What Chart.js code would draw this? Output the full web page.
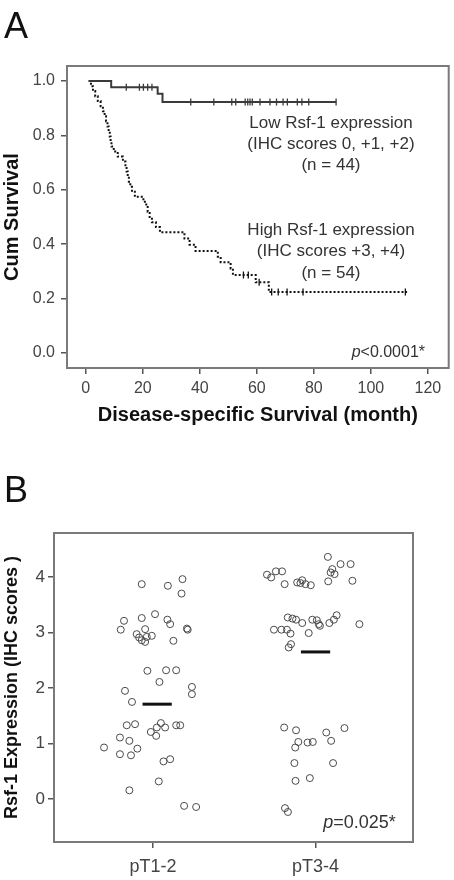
<!DOCTYPE html>
<html><head><meta charset="utf-8">
<script src="https://cdn.jsdelivr.net/npm/chart.js@4.4.1/dist/chart.umd.min.js"></script>
<style>
html,body{margin:0;padding:0;background:#fff;}
body{width:454px;height:880px;position:relative;overflow:hidden;font-family:"Liberation Sans",Arial,sans-serif;}
.wrap{position:absolute;left:0;width:454px;height:440px;}
#wa{top:0}
#wb{top:440px}
.letter{position:absolute;left:4px;font-size:36px;line-height:1;color:#111;}
</style></head><body>
<div class="wrap" id="wa"><canvas id="ca" width="454" height="440"></canvas></div>
<div class="wrap" id="wb"><canvas id="cb" width="454" height="440"></canvas></div>
<div class="letter" style="top:8px">A</div>
<div class="letter" style="top:472px">B</div>
<script>
// ---------- Panel A data (Kaplan-Meier) ----------
const xTicksA = [0, 20, 40, 60, 80, 100, 120];
const yTicksA = [0.0, 0.2, 0.4, 0.6, 0.8, 1.0];

const lowTime = [1.0, 8.9, 25.2, 26.9, 87.8];
const lowSurv = [1.000, 0.977, 0.953, 0.923, 0.923];
const lowCensorTime = [14.2, 18.8, 20.2, 21.7, 23.2, 36.8, 44.9, 51.2, 52.6, 55.9, 56.8, 57.6, 58.4, 61.1, 64.6, 66.9, 69.2, 70.7, 74.2, 75.8, 78.2, 87.8];
const lowCensorSurv = [0.977, 0.977, 0.977, 0.977, 0.977, 0.923, 0.923, 0.923, 0.923, 0.923, 0.923, 0.923, 0.923, 0.923, 0.923, 0.923, 0.923, 0.923, 0.923, 0.923, 0.923, 0.923];

const highTime = [1.0, 1.8, 2.5, 3.3, 4.2, 5.2, 6.0, 6.6, 7.1, 7.6, 8.0, 8.4, 8.7, 9.0, 9.8, 11.2, 13.0, 13.9, 14.3, 14.7, 15.1, 15.6, 16.2, 17.2, 20.2, 21.2, 21.7, 22.4, 23.2, 24.6, 26.0, 34.6, 36.4, 38.5, 46.3, 47.3, 50.8, 51.6, 59.6, 64.2, 112.7];
const highSurv = [1.000, 0.981, 0.963, 0.944, 0.926, 0.907, 0.889, 0.870, 0.852, 0.833, 0.815, 0.796, 0.778, 0.759, 0.741, 0.722, 0.704, 0.685, 0.667, 0.648, 0.630, 0.611, 0.593, 0.574, 0.556, 0.537, 0.519, 0.500, 0.481, 0.463, 0.444, 0.421, 0.398, 0.375, 0.354, 0.334, 0.311, 0.287, 0.260, 0.224, 0.224];
const highCensorTime = [55.3, 57.0, 60.8, 65.2, 67.5, 70.6, 76.2, 112.1];
const highCensorSurv = [0.287, 0.287, 0.260, 0.224, 0.224, 0.224, 0.224, 0.224];

// ---------- Panel B data (dot plot) ----------
const categories = ['pT1-2', 'pT3-4'];
const yTicksB = [0, 1, 2, 3, 4];
const groupMeans = [1.71, 2.65];
const t12X = [0.930, 1.091, 1.181, 1.175, 0.821, 0.801, 0.930, 1.012, 1.088, 1.105, 1.208, 1.213, 0.899, 0.914, 0.951, 0.961, 0.992, 0.930, 0.951, 1.125, 0.965, 1.080, 1.142, 1.039, 0.827, 0.870, 1.239, 1.239, 0.838, 0.889, 1.048, 1.023, 0.986, 1.019, 1.074, 1.142, 1.167, 0.796, 0.854, 0.903, 0.698, 0.796, 0.864, 1.064, 1.105, 1.035, 0.854, 1.191, 1.265];
const t12Y = [3.87, 3.84, 3.96, 3.70, 3.21, 3.05, 3.26, 3.33, 3.23, 3.15, 3.07, 3.05, 2.97, 2.91, 3.06, 2.92, 2.94, 2.86, 2.83, 2.85, 2.31, 2.32, 2.32, 2.11, 1.95, 1.75, 2.02, 1.89, 1.33, 1.35, 1.37, 1.29, 1.21, 1.14, 1.29, 1.33, 1.33, 1.11, 1.05, 0.91, 0.93, 0.81, 0.79, 0.68, 0.72, 0.32, 0.16, -0.12, -0.14];
const t34X = [2.076, 2.154, 2.216, 2.093, 2.103, 2.117, 2.078, 2.227, 1.701, 1.727, 1.756, 1.794, 1.810, 1.887, 1.907, 1.918, 1.938, 1.971, 1.829, 1.858, 1.880, 1.918, 1.980, 2.008, 2.020, 2.027, 2.085, 2.113, 2.130, 1.744, 1.790, 1.824, 1.846, 1.958, 2.270, 1.835, 1.849, 1.807, 1.880, 1.894, 1.875, 1.951, 1.983, 2.066, 2.096, 2.178, 1.870, 2.108, 1.877, 1.965, 1.812, 1.830];
const t34Y = [4.36, 4.23, 4.23, 4.08, 4.14, 4.05, 3.92, 3.93, 4.04, 3.99, 4.10, 4.10, 3.87, 3.90, 3.89, 3.94, 3.87, 3.85, 3.27, 3.25, 3.23, 3.17, 3.23, 3.22, 3.15, 3.12, 3.17, 3.23, 3.31, 3.05, 3.05, 3.05, 2.98, 2.99, 3.15, 2.73, 2.79, 1.29, 1.24, 1.03, 0.93, 1.02, 1.03, 1.20, 1.05, 1.28, 0.65, 0.65, 0.33, 0.38, -0.16, -0.23];

// ---------- helpers ----------
const FAM = '"Liberation Sans", Arial, Helvetica, sans-serif';
Chart.defaults.font.family = FAM;
Chart.defaults.animation = false;
const zip = (xs, ys) => xs.map((x, i) => ({x: x, y: ys[i]}));

const framePlugin = {
  id: 'frame',
  afterDraw(chart) {
    const a = chart.chartArea, ctx = chart.ctx;
    ctx.save();
    ctx.strokeStyle = '#7a7a7a';
    ctx.lineWidth = 2;
    ctx.strokeRect(a.left, a.top, a.right - a.left, a.bottom - a.top);
    ctx.restore();
  }
};

function drawPText(ctx, rest, xRight, y, size) {
  ctx.save();
  ctx.textBaseline = 'middle';
  ctx.fillStyle = '#333';
  ctx.font = size + 'px ' + FAM;
  const wRest = ctx.measureText(rest).width;
  ctx.font = 'italic ' + size + 'px ' + FAM;
  const wP = ctx.measureText('p').width;
  ctx.textAlign = 'left';
  ctx.fillText('p', xRight - wRest - wP, y);
  ctx.font = size + 'px ' + FAM;
  ctx.fillText(rest, xRight - wRest, y);
  ctx.restore();
}

// ---------- Chart A ----------
const lowLabel = ['Low Rsf-1 expression', '(IHC scores 0, +1, +2)', '(n = 44)'];
const highLabel = ['High Rsf-1 expression', '(IHC scores +3, +4)', '(n = 54)'];
const annotA = {
  id: 'annotA',
  afterDraw(chart) {
    const ctx = chart.ctx, xs = chart.scales.x, ys = chart.scales.y;
    ctx.save();
    ctx.fillStyle = '#333';
    ctx.font = '17px ' + FAM;
    ctx.textAlign = 'center';
    ctx.textBaseline = 'middle';
    const cx = xs.getPixelForValue(86);
    let y0 = ys.getPixelForValue(0.846);
    lowLabel.forEach((t, i) => ctx.fillText(t, cx, y0 + i * 21));
    y0 = ys.getPixelForValue(0.452);
    highLabel.forEach((t, i) => ctx.fillText(t, cx, y0 + i * 21.5));
    ctx.restore();
    drawPText(ctx, '<0.0001*', xs.getPixelForValue(119), ys.getPixelForValue(0.003), 16);
  }
};

new Chart(document.getElementById('ca'), {
  type: 'line',
  data: {
    datasets: [
      {data: zip(lowTime, lowSurv), stepped: 'before', borderColor: '#3a3a3a', borderWidth: 2, pointRadius: 0, fill: false},
      {data: zip(lowCensorTime, lowCensorSurv), showLine: false, pointStyle: 'line', rotation: 90, pointRadius: 3.5, borderColor: '#3a3a3a', pointBorderWidth: 1.3},
      {data: zip(highTime, highSurv), stepped: 'before', borderColor: '#111', borderWidth: 2, borderDash: [2, 2], pointRadius: 0, fill: false},
      {data: zip(highCensorTime, highCensorSurv), showLine: false, pointStyle: 'line', rotation: 90, pointRadius: 3.5, borderColor: '#111', pointBorderWidth: 1.3}
    ]
  },
  options: {
    responsive: false,
    animation: false,
    layout: {padding: {left: 0, top: 66, right: 2, bottom: 12}},
    plugins: {legend: {display: false}, tooltip: {enabled: false}},
    scales: {
      x: {
        type: 'linear', min: -6.6, max: 127.3,
        afterBuildTicks: s => { s.ticks = xTicksA.map(v => ({value: v})); },
        afterFit: s => { s.height = 60; },
        ticks: {font: {size: 16}, color: '#444', padding: 5, maxRotation: 0, autoSkip: false, callback: v => String(v)},
        grid: {display: true, drawOnChartArea: false, drawTicks: true, tickLength: 6, color: '#555', lineWidth: 1.5},
        border: {display: false},
        title: {display: true, text: 'Disease-specific Survival (month)', color: '#111', font: {size: 20, weight: 'bold'}, padding: {top: 0, bottom: 1}}
      },
      y: {
        type: 'linear', min: -0.055, max: 1.055,
        afterBuildTicks: s => { s.ticks = yTicksA.map(v => ({value: v})); },
        afterFit: s => { s.width = 67; },
        ticks: {font: {size: 16}, color: '#444', padding: 6, autoSkip: false, callback: v => Number(v).toFixed(1)},
        grid: {display: true, drawOnChartArea: false, drawTicks: true, tickLength: 6, color: '#555', lineWidth: 1.5},
        border: {display: false},
        title: {display: true, text: 'Cum Survival', color: '#111', font: {size: 20, weight: 'bold'}, padding: {top: 0, bottom: 0}}
      }
    }
  },
  plugins: [framePlugin, annotA]
});

// ---------- Chart B ----------
const meanHalfWidth = 0.09;
const annotB = {
  id: 'annotB',
  afterDraw(chart) {
    const xs = chart.scales.x, ys = chart.scales.y;
    drawPText(chart.ctx, '=0.025*', xs.getPixelForValue(2.494), ys.getPixelForValue(-0.43), 18);
  }
};

const circleStyle = {showLine: false, pointStyle: 'circle', pointRadius: 3.5, pointBorderWidth: 1, borderColor: '#4a4a4a', pointBorderColor: '#4a4a4a', backgroundColor: 'rgba(0,0,0,0)', pointBackgroundColor: 'rgba(0,0,0,0)'};

new Chart(document.getElementById('cb'), {
  type: 'line',
  data: {
    datasets: [
      Object.assign({data: zip(t12X, t12Y)}, circleStyle),
      Object.assign({data: zip(t34X, t34Y)}, circleStyle),
      {data: [{x: 1.025 - meanHalfWidth, y: groupMeans[0]}, {x: 1.025 + meanHalfWidth, y: groupMeans[0]}], borderColor: '#111', borderWidth: 3, pointRadius: 0},
      {data: [{x: 2 - meanHalfWidth, y: groupMeans[1]}, {x: 2 + meanHalfWidth, y: groupMeans[1]}], borderColor: '#111', borderWidth: 3, pointRadius: 0}
    ]
  },
  options: {
    responsive: false,
    animation: false,
    layout: {padding: {left: 0, top: 93, right: 41, bottom: 0}},
    plugins: {legend: {display: false}, tooltip: {enabled: false}},
    scales: {
      x: {
        type: 'linear', min: 0.39, max: 2.6,
        afterBuildTicks: s => { s.ticks = [{value: 1}, {value: 2}]; },
        afterFit: s => { s.height = 38; },
        ticks: {font: {size: 18}, color: '#444', padding: 8, maxRotation: 0, autoSkip: false, callback: v => categories[Math.round(v) - 1]},
        grid: {display: true, drawOnChartArea: false, drawTicks: true, tickLength: 6, color: '#555', lineWidth: 1.5},
        border: {display: false}
      },
      y: {
        type: 'linear', min: -0.77, max: 4.79,
        afterBuildTicks: s => { s.ticks = yTicksB.map(v => ({value: v})); },
        afterFit: s => { s.width = 54; },
        ticks: {font: {size: 17}, color: '#444', padding: 3, autoSkip: false, callback: v => String(v)},
        grid: {display: true, drawOnChartArea: false, drawTicks: true, tickLength: 6, color: '#555', lineWidth: 1.5},
        border: {display: false},
        title: {display: true, text: 'Rsf-1 Expression (IHC scores )', color: '#111', font: {size: 18, weight: 'bold'}, padding: {top: 1, bottom: 0}}
      }
    }
  },
  plugins: [framePlugin, annotB]
});
</script>
</body></html>
